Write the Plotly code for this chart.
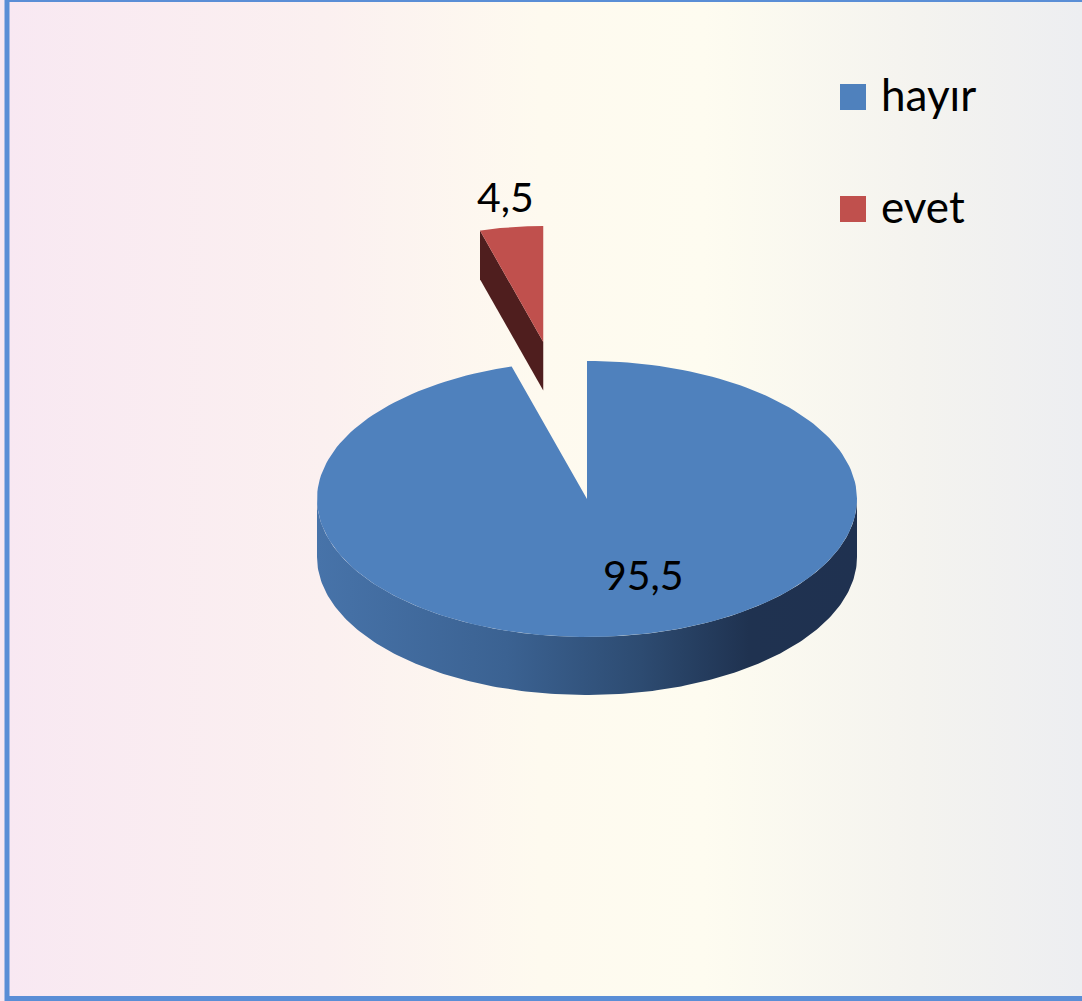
import numpy as np
import plotly.graph_objects as go

# ---------------- data ----------------
categories = ["hayır", "evet"]
values = [95.5, 4.5]
value_labels = ["95,5", "4,5"]

# ---------------- style ----------------
top_colors = ["#4F81BD", "#C0504D"]
cut_colors = ["#2C4A70", "#4F1E1E"]
side_scales = [
    [[0, "#4773A9"], [0.35, "#3B6292"], [0.6, "#2D4B71"], [0.8, "#1F3250"], [1, "#1F3150"]],
    [[0, "#4F1E1E"], [1, "#4F1E1E"]],
]
explode = [0.0, 1.15]
persp = [1.0, 0.84]
W, H = 1082, 1001
cx, cy, rx, ry, depth = 587, 499, 270, 138, 58
FONT = "Lato, 'Open Sans', sans-serif"

fig = go.Figure()

# background gradient
fig.add_trace(go.Scatter(
    x=[0, W, W, 0, 0], y=[0, 0, H, H, 0], mode="lines", fill="toself",
    line=dict(width=0),
    fillgradient=dict(type="horizontal", colorscale=[
        [0, "#F8E8F2"], [0.3, "#FBF0F0"], [0.5, "#FEFAEF"], [0.65, "#FEFCF0"],
        [0.85, "#F4F3EF"], [1, "#EDEEF1"]]),
    hoverinfo="skip", showlegend=False))

total = sum(values)
bounds = np.concatenate([[0], np.cumsum(values)]) / total * 360.0


def arc(t0, t1, ox, oy, s, dz=0.0, n=200):
    t = np.radians(np.linspace(t0, t1, n))
    return ox + s * rx * np.sin(t), oy - s * ry * np.cos(t) + dz


for i, cat in enumerate(categories):
    t0, t1 = bounds[i], bounds[i + 1]
    tm = (t0 + t1) / 2
    s = persp[i]
    ox = cx + explode[i] * rx * np.sin(np.radians(tm))
    oy = cy - explode[i] * ry * np.cos(np.radians(tm))
    d = depth * s

    # outer side (front half only)
    a0, a1 = max(t0, 90), min(t1, 270)
    if a1 > a0:
        xt, yt = arc(a0, a1, ox, oy, s)
        xb, yb = arc(a1, a0, ox, oy, s, d)
        fig.add_trace(go.Scatter(
            x=np.concatenate([xt, xb, xt[:1]]), y=np.concatenate([yt, yb, yt[:1]]),
            mode="lines", fill="toself", line=dict(width=0),
            fillgradient=dict(type="horizontal", colorscale=side_scales[i]),
            hoverinfo="skip", showlegend=False))

    # radial cut faces that face the viewer
    for edge, normal in ((t0, t0 - 90), (t1, t1 + 90)):
        if -np.cos(np.radians(normal)) > 0.05 and explode[i] > 0:
            px, py = arc(edge, edge, ox, oy, s, n=1)
            fig.add_trace(go.Scatter(
                x=[px[0], ox, ox, px[0], px[0]], y=[py[0], oy, oy + d, py[0] + d, py[0]],
                mode="lines", fill="toself", line=dict(width=0),
                fillcolor=cut_colors[i], hoverinfo="skip", showlegend=False))

    # top face
    xt, yt = arc(t0, t1, ox, oy, s)
    fig.add_trace(go.Scatter(
        x=np.concatenate([[ox], xt, [ox]]), y=np.concatenate([[oy], yt, [oy]]),
        mode="lines", fill="toself", line=dict(width=0), fillcolor=top_colors[i],
        name=cat, hoverinfo="name", showlegend=False))

    # value label
    if explode[i] > 0:
        lx, ly = arc(tm, tm, ox, oy, s, n=1)
        fig.add_annotation(x=lx[0], y=ly[0], text=value_labels[i], showarrow=False,
                           xanchor="center", yanchor="middle", yshift=31, xshift=-6,
                           font=dict(family=FONT, size=41, color="black"))
    else:
        lx, ly = arc(tm, tm, ox, oy, 0.55, n=1)
        fig.add_annotation(x=lx[0], y=ly[0], text=value_labels[i], showarrow=False,
                           xanchor="center", yanchor="middle", xshift=36,
                           font=dict(family=FONT, size=41, color="black"))

# manual legend
for i, cat in enumerate(categories):
    yc = 97 + i * 112
    fig.add_shape(type="rect", x0=840, x1=866, y0=yc - 13, y1=yc + 13,
                  fillcolor=top_colors[i], line=dict(width=0), layer="above")
    fig.add_annotation(x=879, y=yc - 3, text=cat, showarrow=False, xanchor="left",
                       yanchor="middle", font=dict(family=FONT, size=44, color="black"))

# frame border
fig.add_shape(type="rect", xref="x", yref="y", x0=7, x1=W + 20, y0=-0.5, y1=998.5,
              line=dict(color="#5A8ED6", width=5), fillcolor="rgba(0,0,0,0)", layer="above")

fig.update_layout(
    width=W, height=H, margin=dict(l=0, r=0, t=0, b=0),
    paper_bgcolor="white", plot_bgcolor="white",
    xaxis=dict(range=[0, W], visible=False, fixedrange=True),
    yaxis=dict(range=[H, 0], visible=False, fixedrange=True),
    showlegend=False,
)

fig.write_html("out.html", config={"displayModeBar": False},
               post_script="document.body.style.margin='0';")
